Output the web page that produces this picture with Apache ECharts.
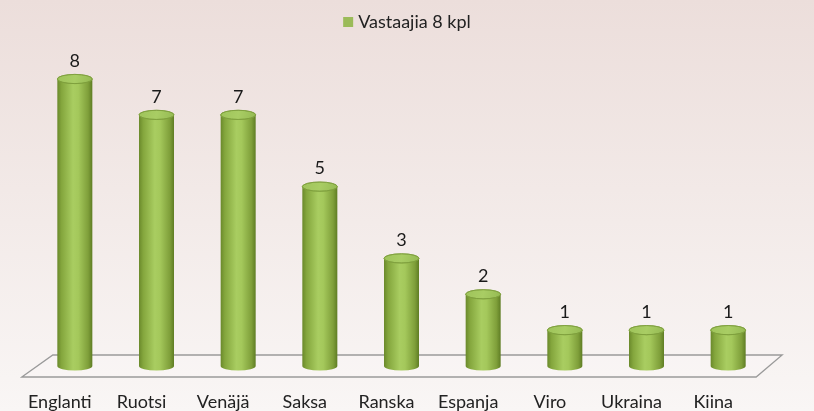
<!DOCTYPE html>
<html>
<head>
<meta charset="utf-8">
<script src="https://cdn.jsdelivr.net/npm/echarts@6/dist/echarts.min.js"></script>
<style>
html,body{margin:0;padding:0;}
#c{width:814px;height:411px;}
</style>
</head>
<body>
<div id="c"></div>
<script>
var categories = ['Englanti','Ruotsi','Venäjä','Saksa','Ranska','Espanja','Viro','Ukraina','Kiina'];
var values = [8,7,7,5,3,2,1,1,1];
var seriesName = 'Vastaajia 8 kpl';

var FONT = 'Lato, "Noto Sans", sans-serif';
var chart = echarts.init(document.getElementById('c'), null, {renderer:'canvas'});

function bodyGrad(){
  return new echarts.graphic.LinearGradient(0,0,1,0,[
    {offset:0, color:'#6a892b'},
    {offset:0.12, color:'#84a63d'},
    {offset:0.45, color:'#a9cd61'},
    {offset:0.6, color:'#a4c85b'},
    {offset:0.88, color:'#7f9f3a'},
    {offset:1, color:'#5f7d24'}
  ]);
}
function topGrad(){
  return new echarts.graphic.LinearGradient(0,0,1,1,[
    {offset:0, color:'#9ec35a'},
    {offset:0.5, color:'#a9cd64'},
    {offset:1, color:'#94b952'}
  ]);
}

function renderItem(params, api){
  var top = api.coord([api.value(0), api.value(1)]);
  var base = api.coord([api.value(0), 0]);
  var w = 35, rx = w/2, ry = 4.6;
  var x1 = top[0]-rx, x2 = top[0]+rx;
  var body = 'M'+x1+' '+top[1]+' L'+x1+' '+base[1]+' A'+rx+' '+ry+' 0 0 0 '+x2+' '+base[1]+' L'+x2+' '+top[1]+' Z';
  var cap = 'M'+x1+' '+top[1]+' A'+rx+' '+ry+' 0 1 0 '+x2+' '+top[1]+' A'+rx+' '+ry+' 0 1 0 '+x1+' '+top[1]+' Z';
  return {
    type:'group',
    children:[
      {type:'path', shape:{pathData:body}, style:{fill:bodyGrad()}},
      {type:'path', shape:{pathData:cap}, style:{fill:topGrad(), stroke:'#7e9e3c', lineWidth:0.8}},
      {type:'text', x:top[0], y:top[1]-18, style:{text:String(api.value(1)), fill:'#1a1a1a', font:'18px '+FONT, align:'center', verticalAlign:'middle'}}
    ]
  };
}

var option = {
  backgroundColor: new echarts.graphic.LinearGradient(0,0,0,1,[
    {offset:0, color:'#ecdedb'},
    {offset:1, color:'#f9f6f5'}
  ]),
  animation:false,
  legend:{
    top:8, left:'center',
    itemWidth:10, itemHeight:10, itemGap:6,
    icon:'rect',
    textStyle:{fontFamily:FONT, fontSize:18, color:'#222'},
    data:[{name:seriesName, itemStyle:{color:'#9bbb59'}}]
  },
  grid:[
    {left:34, right:45, top:79, bottom:45},
    {left:19, right:60, top:79, bottom:45}
  ],
  xAxis:[{
    type:'category', data:categories, gridIndex:0,
    axisLine:{show:false}, axisTick:{show:false}, axisLabel:{show:false}
  },{
    type:'category', data:categories, gridIndex:1,
    axisLine:{show:false}, axisTick:{show:false},
    axisLabel:{margin:28, fontFamily:FONT, fontSize:18, color:'#222', interval:0}
  }],
  yAxis:[
    {type:'value', min:0, max:8, show:false, gridIndex:0, splitLine:{show:false}},
    {type:'value', min:0, max:8, show:false, gridIndex:1, splitLine:{show:false}}
  ],
  series:[{
    name:seriesName, type:'custom', z:5,
    xAxisIndex:0, yAxisIndex:0,
    itemStyle:{color:'#9bbb59'},
    renderItem:renderItem,
    encode:{x:0, y:1},
    data: values.map(function(v,i){return [i, v];})
  }]
};
chart.setOption(option);

var p0 = chart.convertToPixel({seriesIndex:0}, [0,0]);
var pN = chart.convertToPixel({seriesIndex:0}, [categories.length-1,0]);
var fy = p0[1], d = 11;
chart.setOption({
  graphic:[{
    type:'polygon', z:0,
    shape:{points:[[p0[0]-53, fy+d],[p0[0]-22, fy-d],[pN[0]+54, fy-d],[pN[0]+28, fy+d]]},
    style:{fill:'rgba(255,255,255,0.15)', stroke:'#9a9a9a', lineWidth:1.3}
  }]
});
</script>
</body>
</html>
